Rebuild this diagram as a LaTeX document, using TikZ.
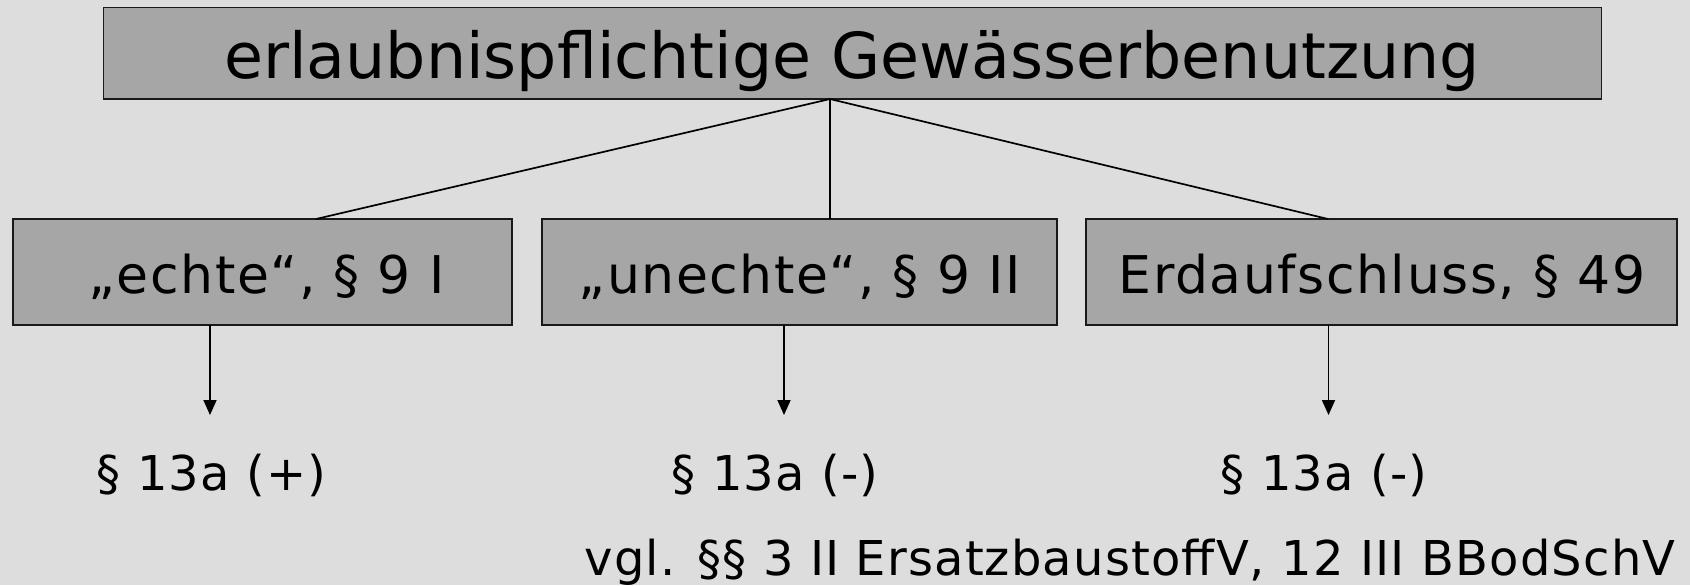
\documentclass[tikz,border=0pt]{standalone}
\usepackage{fontspec}
\setmainfont{DejaVu Sans}
\usetikzlibrary{arrows.meta}
\definecolor{bg}{RGB}{221,221,221}
\definecolor{boxfill}{RGB}{166,166,166}
\definecolor{edge}{RGB}{25,25,25}
\tikzset{
  gbox/.style={draw=edge, fill=boxfill, line width=0.75pt, inner sep=0pt, minimum height=53pt},
  conn/.style={draw=black, line width=0.85pt},
  arr/.style={draw=black, line width=0.85pt, -{Triangle[width=6.5pt,length=7.5pt]}},
  toptext/.style={anchor=base, inner sep=0pt, font=\fontsize{31.7pt}{38pt}\selectfont},
  boxtext/.style={anchor=base, inner sep=0pt, font=\fontsize{26pt}{31pt}\selectfont\addfontfeatures{LetterSpace=3}},
  resulttext/.style={anchor=base, inner sep=0pt, font=\fontsize{24pt}{29pt}\selectfont\addfontfeatures{LetterSpace=2.4}}
}
\begin{document}
\begin{tikzpicture}[x=0.5pt,y=-0.5pt]
\fill[bg] (0,0) rectangle (1690,585);
\useasboundingbox (0,0) rectangle (1690,585);

% boxes
\node[gbox, minimum width=749pt, minimum height=45.75pt] (top) at (852.5,53.25) {};
\node[gbox, minimum width=249.5pt] (b1) at (262.5,272) {};
\node[gbox, minimum width=257.5pt] (b2) at (799.5,272) {};
\node[gbox, minimum width=295.5pt] (b3) at (1381.5,272) {};

% texts
\node[toptext] (ttop) at (852,78.3) {erlaubnispflichtige Gewässerbenutzung};
\node[boxtext] (tb1) at (266.5,293) {„echte“, § 9 I};
\node[boxtext] (tb2) at (799.5,293) {„unechte“, § 9 II};
\node[boxtext] (tb3) at (1382,293) {Erdaufschluss, § 49};

% connector points
\coordinate (apex) at (830,99);
\coordinate (j1) at (316,219);
\coordinate (j2) at (830,219);
\coordinate (j3) at (1328,219);

\draw[conn] (apex) -- (j1);
\draw[conn] (apex) -- (j2);
\draw[conn] (apex) -- (j3);

% arrows
\coordinate (s1) at (210,325);
\coordinate (e1) at (210,415);
\coordinate (s2) at (784,325);
\coordinate (e2) at (784,415);
\coordinate (s3) at (1328.5,325);
\coordinate (e3) at (1328.5,415);
\draw[arr] (s1) -- (e1);
\draw[arr] (s2) -- (e2);
\draw[arr] (s3) -- (e3);

% results
\node[resulttext] (r1) at (211.7,490) {§ 13a (+)};
\node[resulttext] (r2) at (775,490) {§ 13a (-)};
\node[resulttext] (r3) at (1324,490) {§ 13a (-)};
\node[resulttext] (vgl) at (1130,575) {vgl. §§ 3 II ErsatzbaustoffV, 12 III BBodSchV};
\end{tikzpicture}
\end{document}
